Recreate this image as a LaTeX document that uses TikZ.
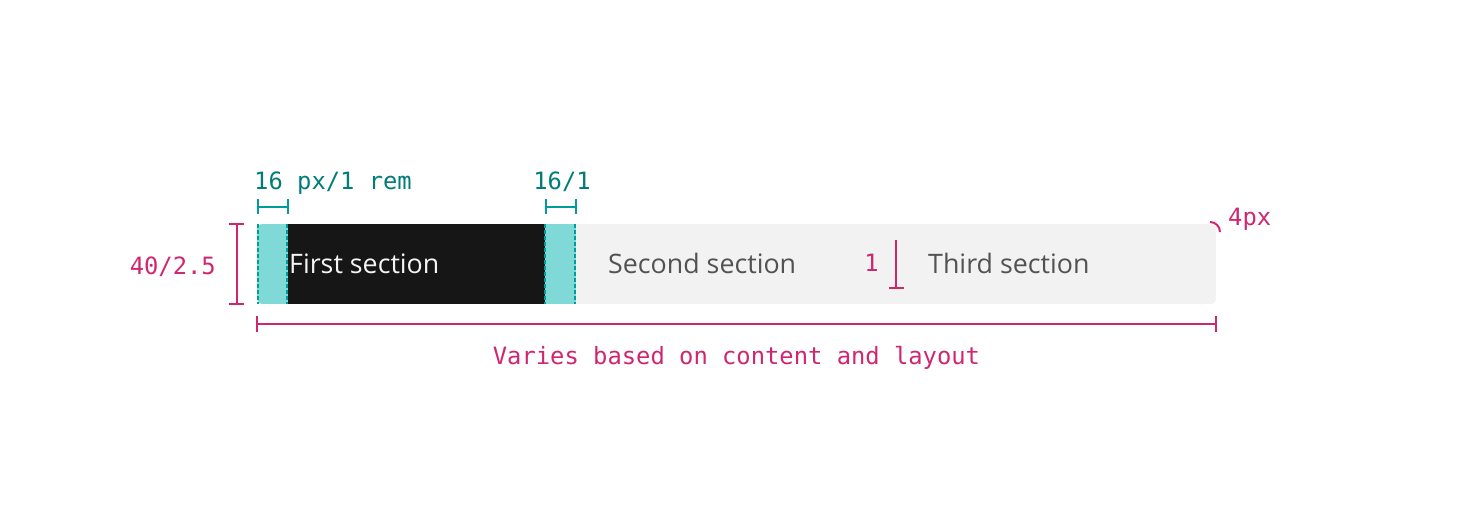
\documentclass[tikz,border=0pt]{standalone}
\usepackage{fontspec}
\usetikzlibrary{calc}
\setmainfont{Open Sans}
\newfontfamily\codefont{DejaVu Sans Mono}
\definecolor{mint}{HTML}{7FD9D6}
\definecolor{tealline}{HTML}{009D9A}
\definecolor{tealtext}{HTML}{007D79}
\definecolor{magenta}{HTML}{D02670}
\definecolor{ink}{HTML}{161616}
\definecolor{barfill}{HTML}{F2F2F2}
\definecolor{graytext}{HTML}{525252}
\definecolor{lighttext}{HTML}{F4F4F4}
\tikzset{
  labeltext/.style={inner sep=0pt, font=\fontsize{26.8}{30}\selectfont},
  codetext/.style={inner sep=0pt, font=\codefont\fontsize{23.8}{28}\selectfont},
  tealdim/.style={draw=tealline, line width=2pt},
  magdim/.style={draw=magenta, line width=2pt},
  guide/.style={draw=tealline, line width=1.8pt, dash pattern=on 4pt off 2pt},
}
\begin{document}
\begin{tikzpicture}[x=1pt,y=-1pt]
\useasboundingbox (0,0) rectangle (1472,526);

% tab bar with rounded outer corners
\begin{scope}
  \clip[rounded corners=5pt] (257,224) rectangle (1216,304);
  \fill[barfill] (257,224) rectangle (1216,304);
  \fill[mint] (257,224) rectangle (288,304);
  \fill[ink] (288,224) rectangle (545,304);
  \fill[mint] (545,224) rectangle (576,304);
\end{scope}

% padding guides
\draw[guide] (258.2,224) -- (258.2,304);
\draw[guide] (287,224) -- (287,304);
\draw[guide] (545,224) -- (545,304);
\draw[guide] (575.3,224) -- (575.3,304);

% section labels
\node[labeltext, text=lighttext, anchor=base west] (first) at (289,274) {First section};
\node[labeltext, text=graytext, anchor=base west] (second) at (608,274) {Second section};
\node[labeltext, text=graytext, anchor=base west] (third) at (928,274) {Third section};

% padding dimensions
\coordinate (pa) at (258,206.7);
\coordinate (pb) at (288,206.7);
\draw[tealdim] (pa) -- (pb);
\draw[tealdim] ($(pa)+(0,-7.5)$) -- ($(pa)+(0,7.5)$);
\draw[tealdim] ($(pb)+(0,-7.5)$) -- ($(pb)+(0,7.5)$);
\node[codetext, text=tealtext, anchor=base west] (padlabel) at (254,190) {16 px/1 rem};

\coordinate (qa) at (546,206.7);
\coordinate (qb) at (576,206.7);
\draw[tealdim] (qa) -- (qb);
\draw[tealdim] ($(qa)+(0,-7.5)$) -- ($(qa)+(0,7.5)$);
\draw[tealdim] ($(qb)+(0,-7.5)$) -- ($(qb)+(0,7.5)$);
\node[codetext, text=tealtext, anchor=base] (padlabeltwo) at (562,190) {16/1};

% height dimension
\coordinate (ha) at (236.5,224);
\coordinate (hb) at (236.5,304);
\draw[magdim] (ha) -- (hb);
\draw[magdim] ($(ha)+(-7.5,0)$) -- ($(ha)+(7.5,0)$);
\draw[magdim] ($(hb)+(-7.5,0)$) -- ($(hb)+(7.5,0)$);
\node[codetext, text=magenta, anchor=base east] (heightlabel) at (216,275) {40/2.5};

% width dimension
\coordinate (wa) at (257,324.5);
\coordinate (wb) at (1216,324.5);
\draw[magdim] (wa) -- (wb);
\draw[magdim] ($(wa)+(0,-8)$) -- ($(wa)+(0,8)$);
\draw[magdim] ($(wb)+(0,-8)$) -- ($(wb)+(0,8)$);
\node[codetext, text=magenta, anchor=base] (widthlabel) at (736.5,364) {Varies based on content and layout};

% divider marker
\coordinate (da) at (896,240);
\coordinate (db) at (896,288);
\draw[magdim] (da) -- (db);
\draw[magdim] ($(db)+(-7.5,0)$) -- ($(db)+(7.5,0)$);
\node[codetext, text=magenta, anchor=base] (dividerlabel) at (871.5,272) {1};

% corner radius marker
\draw[magdim] (1210,222) .. controls (1215.5,222) and (1220,226.5) .. (1220,232);
\node[codetext, text=magenta, anchor=base west] (radiuslabel) at (1228,226) {4px};
\end{tikzpicture}
\end{document}
